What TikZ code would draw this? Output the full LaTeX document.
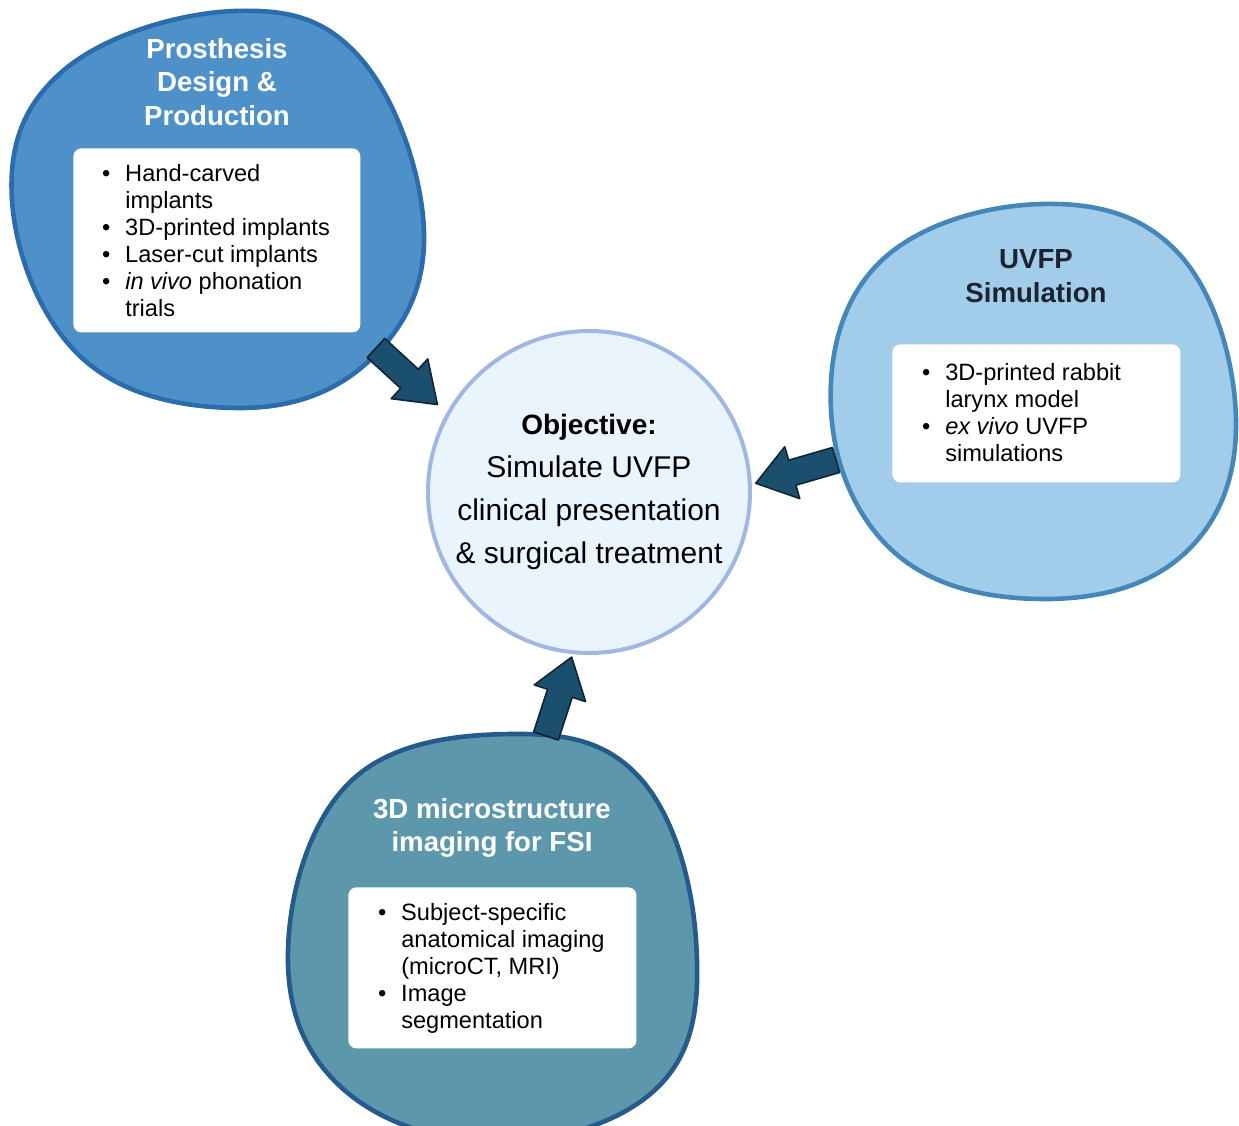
\documentclass[tikz,border=0pt]{standalone}
\usepackage{fontspec}
\setmainfont{Liberation Sans}
\usetikzlibrary{calc}

\definecolor{prosfill}{HTML}{4D91C8}
\definecolor{prosline}{HTML}{2D6CAC}
\definecolor{simfill}{HTML}{A2CDEA}
\definecolor{simline}{HTML}{4687B9}
\definecolor{imgfill}{HTML}{5D97AC}
\definecolor{imgline}{HTML}{255A8C}
\definecolor{objfill}{HTML}{EAF4FD}
\definecolor{objline}{HTML}{A0B7E2}
\definecolor{arrfill}{HTML}{1B4F6E}
\definecolor{arrline}{HTML}{0F2434}
\definecolor{darktitle}{HTML}{1C2230}

\tikzset{
  blob/.style={line width=2.3pt, line join=round},
  title/.style={font=\fontsize{13.8}{16.75}\selectfont\bfseries, align=center, inner sep=0pt},
  listbox/.style={fill=white, rounded corners=4pt, inner sep=0pt, anchor=north west},
  listtext/.style={font=\fontsize{11.8}{13.5}\selectfont, inner sep=0pt, anchor=north west, align=left},
  fatarrowstyle/.style={fill=arrfill, draw=arrline, line width=0.8pt, line join=round},
}

% block arrow from tail #1 to tip #2
\newcommand{\fatarrow}[2]{%
  \coordinate (#1b) at ($(#2)!19pt!(#1)$);
  \draw[fatarrowstyle] ($(#1)!6.5pt!90:(#2)$) -- ($(#1b)!6.5pt!-90:(#1)$)
    -- ($(#1b)!13.5pt!-90:(#1)$) -- (#2) -- ($(#1b)!13.5pt!90:(#1)$)
    -- ($(#1b)!6.5pt!90:(#1)$) -- ($(#1)!6.5pt!-90:(#2)$) -- cycle;
}

\begin{document}
\begin{tikzpicture}[x=0.5pt, y=-0.5pt]
  \useasboundingbox (0,0) rectangle (1239,1126);
  \fill[white] (0,0) rectangle (1239,1126);
  \clip (0,0) rectangle (1239,1126);

  % outer blobs
  \draw[blob, fill=prosfill, draw=prosline] plot[smooth cycle, tension=0.67] coordinates {
    (235,11) (362,60) (424,232) (370,360) (238,408) (82,358) (12,200) (64,70)};
  \draw[blob, fill=simfill, draw=simline] plot[smooth cycle, tension=0.67] coordinates {
    (1042,204) (1180,255) (1236,420) (1185,553) (1045,599) (895,553) (831,410) (880,262)};
  \draw[blob, fill=imgfill, draw=imgline] plot[smooth cycle, tension=0.67] coordinates {
    (510,734) (640,778) (696,940) (660,1085) (500,1142) (342,1088) (288,950) (350,782)};

  % titles
  \node[title, text=white] (ttl1) at (217,82) {Prosthesis\\Design \&\\Production};
  \node[title, text=darktitle] (ttl2) at (1036,276) {UVFP\\Simulation};
  \node[title, text=white] (ttl3) at (492,828) {3D microstructure\\imaging for FSI};

  % bullet boxes
  \node[listbox, minimum width=143.5pt, minimum height=92pt] (box1) at (73,148) {};
  \node[listtext] (list1) at ([xshift=14.3pt, yshift=-7pt]box1.north west) {%
    \begin{tabular}{@{}c@{\hspace{7.5pt}}l@{}}
      \textbullet & Hand-carved\\
                  & implants\\
      \textbullet & 3D-printed implants\\
      \textbullet & Laser-cut implants\\
      \textbullet & \textit{in vivo} phonation\\
                  & trials
    \end{tabular}};

  \node[listbox, minimum width=144pt, minimum height=69pt] (box2) at (892,344) {};
  \node[listtext] (list2) at ([xshift=14.8pt, yshift=-8.5pt]box2.north west) {%
    \begin{tabular}{@{}c@{\hspace{7.5pt}}l@{}}
      \textbullet & 3D-printed rabbit\\
                  & larynx model\\
      \textbullet & \textit{ex vivo} UVFP\\
                  & simulations
    \end{tabular}};

  \node[listbox, minimum width=144pt, minimum height=80.5pt] (box3) at (348,887) {};
  \node[listtext] (list3) at ([xshift=14.8pt, yshift=-7pt]box3.north west) {%
    \begin{tabular}{@{}c@{\hspace{7.5pt}}l@{}}
      \textbullet & Subject-specific\\
                  & anatomical imaging\\
                  & (microCT, MRI)\\
      \textbullet & Image\\
                  & segmentation
    \end{tabular}};

  % objective in the middle
  \node[circle, draw=objline, fill=objfill, line width=2pt, minimum size=161pt,
        inner sep=0pt, align=center, font=\fontsize{15}{21.5}\selectfont] (obj) at (589,492)
    {{\fontsize{14}{21.5}\selectfont\bfseries Objective:}\\Simulate UVFP\\clinical presentation\\\& surgical treatment};

  % arrows into the objective
  \coordinate (t1) at (376,348);
  \coordinate (p1) at ($(obj.150)!-6pt!(obj.center)$);
  \coordinate (t2) at (836,460);
  \coordinate (p2) at ($(obj.3)!-2pt!(obj.center)$);
  \coordinate (t3) at (546,736);
  \coordinate (p3) at ($(obj.264)!-1.5pt!(obj.center)$);
  \fatarrow{t1}{p1}
  \fatarrow{t2}{p2}
  \fatarrow{t3}{p3}
\end{tikzpicture}
\end{document}
